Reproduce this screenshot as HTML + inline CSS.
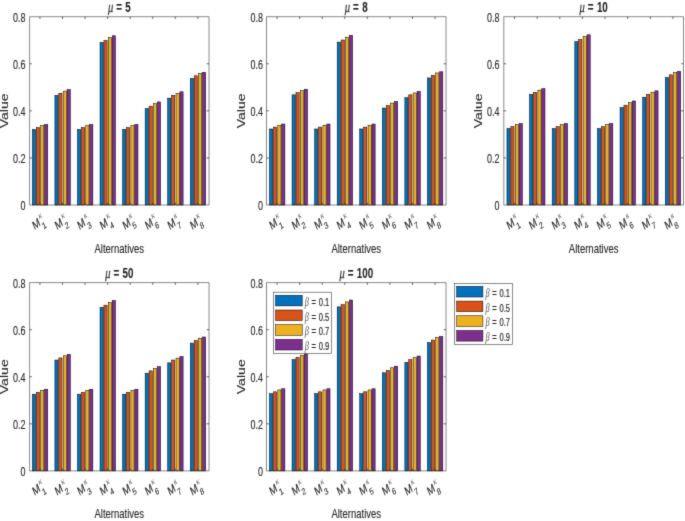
<!DOCTYPE html><html><head><meta charset="utf-8"><style>html,body{margin:0;padding:0;background:#fff;}svg{display:block}</style></head><body>
<svg width="685" height="521" viewBox="0 0 685 521" font-family='"Liberation Sans", sans-serif' fill="#262626">
<rect width="685" height="521" fill="#fff"/>
<style>text{stroke:#262626;stroke-width:0.12px;paint-order:stroke} .lg text{stroke-width:0.18px} .gk{fill:#555;stroke:none} .mu{fill:#333;stroke:#333;stroke-width:0.25px}</style>
<defs><filter id="b" x="0" y="0" width="685" height="521" filterUnits="userSpaceOnUse" color-interpolation-filters="sRGB"><feConvolveMatrix order="3" kernelMatrix="0.0225 0.15 0.0225 0.15 1 0.15 0.0225 0.15 0.0225" edgeMode="duplicate"/></filter></defs><g filter="url(#b)">
<rect x="32.35" y="129.44" width="3.20" height="75.56" fill="#0072BD" stroke="#000" stroke-width="0.5"/>
<rect x="36.25" y="127.56" width="3.20" height="77.44" fill="#D95319" stroke="#000" stroke-width="0.5"/>
<rect x="40.65" y="125.68" width="3.20" height="79.32" fill="#EDB120" stroke="#000" stroke-width="0.5"/>
<rect x="44.55" y="124.50" width="3.20" height="80.50" fill="#7E2F8E" stroke="#000" stroke-width="0.5"/>
<rect x="54.91" y="95.32" width="3.20" height="109.68" fill="#0072BD" stroke="#000" stroke-width="0.5"/>
<rect x="58.81" y="93.20" width="3.20" height="111.80" fill="#D95319" stroke="#000" stroke-width="0.5"/>
<rect x="63.21" y="91.08" width="3.20" height="113.92" fill="#EDB120" stroke="#000" stroke-width="0.5"/>
<rect x="67.11" y="89.67" width="3.20" height="115.33" fill="#7E2F8E" stroke="#000" stroke-width="0.5"/>
<rect x="77.47" y="129.44" width="3.20" height="75.56" fill="#0072BD" stroke="#000" stroke-width="0.5"/>
<rect x="81.37" y="127.56" width="3.20" height="77.44" fill="#D95319" stroke="#000" stroke-width="0.5"/>
<rect x="85.77" y="125.68" width="3.20" height="79.32" fill="#EDB120" stroke="#000" stroke-width="0.5"/>
<rect x="89.67" y="124.50" width="3.20" height="80.50" fill="#7E2F8E" stroke="#000" stroke-width="0.5"/>
<rect x="100.03" y="42.59" width="3.20" height="162.41" fill="#0072BD" stroke="#000" stroke-width="0.5"/>
<rect x="103.93" y="40.47" width="3.20" height="164.53" fill="#D95319" stroke="#000" stroke-width="0.5"/>
<rect x="108.33" y="37.65" width="3.20" height="167.35" fill="#EDB120" stroke="#000" stroke-width="0.5"/>
<rect x="112.23" y="35.77" width="3.20" height="169.23" fill="#7E2F8E" stroke="#000" stroke-width="0.5"/>
<rect x="122.59" y="129.44" width="3.20" height="75.56" fill="#0072BD" stroke="#000" stroke-width="0.5"/>
<rect x="126.49" y="127.56" width="3.20" height="77.44" fill="#D95319" stroke="#000" stroke-width="0.5"/>
<rect x="130.89" y="125.68" width="3.20" height="79.32" fill="#EDB120" stroke="#000" stroke-width="0.5"/>
<rect x="134.79" y="124.50" width="3.20" height="80.50" fill="#7E2F8E" stroke="#000" stroke-width="0.5"/>
<rect x="145.15" y="108.50" width="3.20" height="96.50" fill="#0072BD" stroke="#000" stroke-width="0.5"/>
<rect x="149.05" y="106.14" width="3.20" height="98.86" fill="#D95319" stroke="#000" stroke-width="0.5"/>
<rect x="153.45" y="103.55" width="3.20" height="101.45" fill="#EDB120" stroke="#000" stroke-width="0.5"/>
<rect x="157.35" y="101.91" width="3.20" height="103.09" fill="#7E2F8E" stroke="#000" stroke-width="0.5"/>
<rect x="167.71" y="98.14" width="3.20" height="106.86" fill="#0072BD" stroke="#000" stroke-width="0.5"/>
<rect x="171.61" y="95.32" width="3.20" height="109.68" fill="#D95319" stroke="#000" stroke-width="0.5"/>
<rect x="176.01" y="93.43" width="3.20" height="111.57" fill="#EDB120" stroke="#000" stroke-width="0.5"/>
<rect x="179.91" y="91.78" width="3.20" height="113.22" fill="#7E2F8E" stroke="#000" stroke-width="0.5"/>
<rect x="190.27" y="78.37" width="3.20" height="126.63" fill="#0072BD" stroke="#000" stroke-width="0.5"/>
<rect x="194.17" y="75.78" width="3.20" height="129.22" fill="#D95319" stroke="#000" stroke-width="0.5"/>
<rect x="198.57" y="73.43" width="3.20" height="131.57" fill="#EDB120" stroke="#000" stroke-width="0.5"/>
<rect x="202.47" y="72.25" width="3.20" height="132.75" fill="#7E2F8E" stroke="#000" stroke-width="0.5"/>
<path d="M39.95,205.00v-2.3M39.95,16.70v2.3M62.51,205.00v-2.3M62.51,16.70v2.3M85.07,205.00v-2.3M85.07,16.70v2.3M107.63,205.00v-2.3M107.63,16.70v2.3M130.19,205.00v-2.3M130.19,16.70v2.3M152.75,205.00v-2.3M152.75,16.70v2.3M175.31,205.00v-2.3M175.31,16.70v2.3M197.87,205.00v-2.3M197.87,16.70v2.3M29.60,157.93h2.3M209.00,157.93h-2.3M29.60,110.85h2.3M209.00,110.85h-2.3M29.60,63.77h2.3M209.00,63.77h-2.3" fill="none" stroke="#262626" stroke-width="0.7"/>
<path d="M29.60,16.70H209.00V205.00H29.60Z" fill="none" stroke="#262626" stroke-width="0.55"/>
<text transform="translate(25.40,210.30) scale(0.72,1)" font-size="12.5" text-anchor="end" font-weight="normal" >0</text>
<text transform="translate(25.40,163.23) scale(0.72,1)" font-size="12.5" text-anchor="end" font-weight="normal" >0.2</text>
<text transform="translate(25.40,116.15) scale(0.72,1)" font-size="12.5" text-anchor="end" font-weight="normal" >0.4</text>
<text transform="translate(25.40,69.07) scale(0.72,1)" font-size="12.5" text-anchor="end" font-weight="normal" >0.6</text>
<text transform="translate(25.40,22.00) scale(0.72,1)" font-size="12.5" text-anchor="end" font-weight="normal" >0.8</text>
<g transform="translate(34.51,230.20) scale(0.72,1) rotate(-30)"><text font-size="12.5">M</text><text x="11.6" y="-5.9" font-size="9.8" font-family='"Liberation Serif", serif' font-style="italic" class="gk">&#954;</text><text x="11.6" y="5.9" font-size="9.4">1</text></g>
<g transform="translate(57.05,230.20) scale(0.72,1) rotate(-30)"><text font-size="12.5">M</text><text x="11.6" y="-5.9" font-size="9.8" font-family='"Liberation Serif", serif' font-style="italic" class="gk">&#954;</text><text x="11.6" y="5.9" font-size="9.4">2</text></g>
<g transform="translate(79.58,230.20) scale(0.72,1) rotate(-30)"><text font-size="12.5">M</text><text x="11.6" y="-5.9" font-size="9.8" font-family='"Liberation Serif", serif' font-style="italic" class="gk">&#954;</text><text x="11.6" y="5.9" font-size="9.4">3</text></g>
<g transform="translate(102.12,230.20) scale(0.72,1) rotate(-30)"><text font-size="12.5">M</text><text x="11.6" y="-5.9" font-size="9.8" font-family='"Liberation Serif", serif' font-style="italic" class="gk">&#954;</text><text x="11.6" y="5.9" font-size="9.4">4</text></g>
<g transform="translate(124.65,230.20) scale(0.72,1) rotate(-30)"><text font-size="12.5">M</text><text x="11.6" y="-5.9" font-size="9.8" font-family='"Liberation Serif", serif' font-style="italic" class="gk">&#954;</text><text x="11.6" y="5.9" font-size="9.4">5</text></g>
<g transform="translate(147.19,230.20) scale(0.72,1) rotate(-30)"><text font-size="12.5">M</text><text x="11.6" y="-5.9" font-size="9.8" font-family='"Liberation Serif", serif' font-style="italic" class="gk">&#954;</text><text x="11.6" y="5.9" font-size="9.4">6</text></g>
<g transform="translate(169.72,230.20) scale(0.72,1) rotate(-30)"><text font-size="12.5">M</text><text x="11.6" y="-5.9" font-size="9.8" font-family='"Liberation Serif", serif' font-style="italic" class="gk">&#954;</text><text x="11.6" y="5.9" font-size="9.4">7</text></g>
<g transform="translate(192.26,230.20) scale(0.72,1) rotate(-30)"><text font-size="12.5">M</text><text x="11.6" y="-5.9" font-size="9.8" font-family='"Liberation Serif", serif' font-style="italic" class="gk">&#954;</text><text x="11.6" y="5.9" font-size="9.4">8</text></g>
<text transform="translate(119.30,252.50) scale(0.72,1)" font-size="13.2" text-anchor="middle" font-weight="normal" >Alternatives</text>
<text transform="translate(8.10,110.85) scale(0.72,1) rotate(-90)" font-size="14.1" text-anchor="middle">Value</text>
<text transform="translate(119.30,11.70) scale(0.71,1)" font-size="13.8" text-anchor="middle" font-weight="bold"><tspan font-family='"Liberation Serif", serif' font-style="italic" font-weight="normal" font-size="14.8" class="mu">&#956;</tspan><tspan dx="4.2">=</tspan><tspan dx="1.0"> 5</tspan></text>
<rect x="269.50" y="128.97" width="3.20" height="76.03" fill="#0072BD" stroke="#000" stroke-width="0.5"/>
<rect x="273.40" y="127.09" width="3.20" height="77.91" fill="#D95319" stroke="#000" stroke-width="0.5"/>
<rect x="277.80" y="125.21" width="3.20" height="79.79" fill="#EDB120" stroke="#000" stroke-width="0.5"/>
<rect x="281.70" y="124.03" width="3.20" height="80.97" fill="#7E2F8E" stroke="#000" stroke-width="0.5"/>
<rect x="292.06" y="94.84" width="3.20" height="110.16" fill="#0072BD" stroke="#000" stroke-width="0.5"/>
<rect x="295.96" y="92.73" width="3.20" height="112.27" fill="#D95319" stroke="#000" stroke-width="0.5"/>
<rect x="300.36" y="90.61" width="3.20" height="114.39" fill="#EDB120" stroke="#000" stroke-width="0.5"/>
<rect x="304.26" y="89.20" width="3.20" height="115.80" fill="#7E2F8E" stroke="#000" stroke-width="0.5"/>
<rect x="314.62" y="128.97" width="3.20" height="76.03" fill="#0072BD" stroke="#000" stroke-width="0.5"/>
<rect x="318.52" y="127.09" width="3.20" height="77.91" fill="#D95319" stroke="#000" stroke-width="0.5"/>
<rect x="322.92" y="125.21" width="3.20" height="79.79" fill="#EDB120" stroke="#000" stroke-width="0.5"/>
<rect x="326.82" y="124.03" width="3.20" height="80.97" fill="#7E2F8E" stroke="#000" stroke-width="0.5"/>
<rect x="337.18" y="42.12" width="3.20" height="162.88" fill="#0072BD" stroke="#000" stroke-width="0.5"/>
<rect x="341.08" y="40.00" width="3.20" height="165.00" fill="#D95319" stroke="#000" stroke-width="0.5"/>
<rect x="345.48" y="37.18" width="3.20" height="167.82" fill="#EDB120" stroke="#000" stroke-width="0.5"/>
<rect x="349.38" y="35.29" width="3.20" height="169.71" fill="#7E2F8E" stroke="#000" stroke-width="0.5"/>
<rect x="359.74" y="128.97" width="3.20" height="76.03" fill="#0072BD" stroke="#000" stroke-width="0.5"/>
<rect x="363.64" y="127.09" width="3.20" height="77.91" fill="#D95319" stroke="#000" stroke-width="0.5"/>
<rect x="368.04" y="125.21" width="3.20" height="79.79" fill="#EDB120" stroke="#000" stroke-width="0.5"/>
<rect x="371.94" y="124.03" width="3.20" height="80.97" fill="#7E2F8E" stroke="#000" stroke-width="0.5"/>
<rect x="382.30" y="108.03" width="3.20" height="96.97" fill="#0072BD" stroke="#000" stroke-width="0.5"/>
<rect x="386.20" y="105.67" width="3.20" height="99.33" fill="#D95319" stroke="#000" stroke-width="0.5"/>
<rect x="390.60" y="103.08" width="3.20" height="101.92" fill="#EDB120" stroke="#000" stroke-width="0.5"/>
<rect x="394.50" y="101.44" width="3.20" height="103.56" fill="#7E2F8E" stroke="#000" stroke-width="0.5"/>
<rect x="404.86" y="97.67" width="3.20" height="107.33" fill="#0072BD" stroke="#000" stroke-width="0.5"/>
<rect x="408.76" y="94.84" width="3.20" height="110.16" fill="#D95319" stroke="#000" stroke-width="0.5"/>
<rect x="413.16" y="92.96" width="3.20" height="112.04" fill="#EDB120" stroke="#000" stroke-width="0.5"/>
<rect x="417.06" y="91.31" width="3.20" height="113.69" fill="#7E2F8E" stroke="#000" stroke-width="0.5"/>
<rect x="427.42" y="77.90" width="3.20" height="127.10" fill="#0072BD" stroke="#000" stroke-width="0.5"/>
<rect x="431.32" y="75.31" width="3.20" height="129.69" fill="#D95319" stroke="#000" stroke-width="0.5"/>
<rect x="435.72" y="72.95" width="3.20" height="132.05" fill="#EDB120" stroke="#000" stroke-width="0.5"/>
<rect x="439.62" y="71.78" width="3.20" height="133.22" fill="#7E2F8E" stroke="#000" stroke-width="0.5"/>
<path d="M277.10,205.00v-2.3M277.10,16.70v2.3M299.66,205.00v-2.3M299.66,16.70v2.3M322.22,205.00v-2.3M322.22,16.70v2.3M344.78,205.00v-2.3M344.78,16.70v2.3M367.34,205.00v-2.3M367.34,16.70v2.3M389.90,205.00v-2.3M389.90,16.70v2.3M412.46,205.00v-2.3M412.46,16.70v2.3M435.02,205.00v-2.3M435.02,16.70v2.3M266.50,157.93h2.3M446.00,157.93h-2.3M266.50,110.85h2.3M446.00,110.85h-2.3M266.50,63.77h2.3M446.00,63.77h-2.3" fill="none" stroke="#262626" stroke-width="0.7"/>
<path d="M266.50,16.70H446.00V205.00H266.50Z" fill="none" stroke="#262626" stroke-width="0.55"/>
<text transform="translate(263.10,210.30) scale(0.72,1)" font-size="12.5" text-anchor="end" font-weight="normal" >0</text>
<text transform="translate(263.10,163.23) scale(0.72,1)" font-size="12.5" text-anchor="end" font-weight="normal" >0.2</text>
<text transform="translate(263.10,116.15) scale(0.72,1)" font-size="12.5" text-anchor="end" font-weight="normal" >0.4</text>
<text transform="translate(263.10,69.07) scale(0.72,1)" font-size="12.5" text-anchor="end" font-weight="normal" >0.6</text>
<text transform="translate(263.10,22.00) scale(0.72,1)" font-size="12.5" text-anchor="end" font-weight="normal" >0.8</text>
<g transform="translate(271.42,230.20) scale(0.72,1) rotate(-30)"><text font-size="12.5">M</text><text x="11.6" y="-5.9" font-size="9.8" font-family='"Liberation Serif", serif' font-style="italic" class="gk">&#954;</text><text x="11.6" y="5.9" font-size="9.4">1</text></g>
<g transform="translate(293.97,230.20) scale(0.72,1) rotate(-30)"><text font-size="12.5">M</text><text x="11.6" y="-5.9" font-size="9.8" font-family='"Liberation Serif", serif' font-style="italic" class="gk">&#954;</text><text x="11.6" y="5.9" font-size="9.4">2</text></g>
<g transform="translate(316.51,230.20) scale(0.72,1) rotate(-30)"><text font-size="12.5">M</text><text x="11.6" y="-5.9" font-size="9.8" font-family='"Liberation Serif", serif' font-style="italic" class="gk">&#954;</text><text x="11.6" y="5.9" font-size="9.4">3</text></g>
<g transform="translate(339.06,230.20) scale(0.72,1) rotate(-30)"><text font-size="12.5">M</text><text x="11.6" y="-5.9" font-size="9.8" font-family='"Liberation Serif", serif' font-style="italic" class="gk">&#954;</text><text x="11.6" y="5.9" font-size="9.4">4</text></g>
<g transform="translate(361.61,230.20) scale(0.72,1) rotate(-30)"><text font-size="12.5">M</text><text x="11.6" y="-5.9" font-size="9.8" font-family='"Liberation Serif", serif' font-style="italic" class="gk">&#954;</text><text x="11.6" y="5.9" font-size="9.4">5</text></g>
<g transform="translate(384.16,230.20) scale(0.72,1) rotate(-30)"><text font-size="12.5">M</text><text x="11.6" y="-5.9" font-size="9.8" font-family='"Liberation Serif", serif' font-style="italic" class="gk">&#954;</text><text x="11.6" y="5.9" font-size="9.4">6</text></g>
<g transform="translate(406.70,230.20) scale(0.72,1) rotate(-30)"><text font-size="12.5">M</text><text x="11.6" y="-5.9" font-size="9.8" font-family='"Liberation Serif", serif' font-style="italic" class="gk">&#954;</text><text x="11.6" y="5.9" font-size="9.4">7</text></g>
<g transform="translate(429.25,230.20) scale(0.72,1) rotate(-30)"><text font-size="12.5">M</text><text x="11.6" y="-5.9" font-size="9.8" font-family='"Liberation Serif", serif' font-style="italic" class="gk">&#954;</text><text x="11.6" y="5.9" font-size="9.4">8</text></g>
<text transform="translate(356.25,252.50) scale(0.72,1)" font-size="13.2" text-anchor="middle" font-weight="normal" >Alternatives</text>
<text transform="translate(245.00,110.85) scale(0.72,1) rotate(-90)" font-size="14.1" text-anchor="middle">Value</text>
<text transform="translate(356.25,11.70) scale(0.71,1)" font-size="13.8" text-anchor="middle" font-weight="bold"><tspan font-family='"Liberation Serif", serif' font-style="italic" font-weight="normal" font-size="14.8" class="mu">&#956;</tspan><tspan dx="4.2">=</tspan><tspan dx="1.0"> 8</tspan></text>
<rect x="506.95" y="128.50" width="3.20" height="76.50" fill="#0072BD" stroke="#000" stroke-width="0.5"/>
<rect x="510.85" y="126.62" width="3.20" height="78.38" fill="#D95319" stroke="#000" stroke-width="0.5"/>
<rect x="515.25" y="124.74" width="3.20" height="80.26" fill="#EDB120" stroke="#000" stroke-width="0.5"/>
<rect x="519.15" y="123.56" width="3.20" height="81.44" fill="#7E2F8E" stroke="#000" stroke-width="0.5"/>
<rect x="529.57" y="94.37" width="3.20" height="110.63" fill="#0072BD" stroke="#000" stroke-width="0.5"/>
<rect x="533.47" y="92.26" width="3.20" height="112.74" fill="#D95319" stroke="#000" stroke-width="0.5"/>
<rect x="537.87" y="90.14" width="3.20" height="114.86" fill="#EDB120" stroke="#000" stroke-width="0.5"/>
<rect x="541.77" y="88.72" width="3.20" height="116.28" fill="#7E2F8E" stroke="#000" stroke-width="0.5"/>
<rect x="552.19" y="128.50" width="3.20" height="76.50" fill="#0072BD" stroke="#000" stroke-width="0.5"/>
<rect x="556.09" y="126.62" width="3.20" height="78.38" fill="#D95319" stroke="#000" stroke-width="0.5"/>
<rect x="560.49" y="124.74" width="3.20" height="80.26" fill="#EDB120" stroke="#000" stroke-width="0.5"/>
<rect x="564.39" y="123.56" width="3.20" height="81.44" fill="#7E2F8E" stroke="#000" stroke-width="0.5"/>
<rect x="574.81" y="41.65" width="3.20" height="163.35" fill="#0072BD" stroke="#000" stroke-width="0.5"/>
<rect x="578.71" y="39.53" width="3.20" height="165.47" fill="#D95319" stroke="#000" stroke-width="0.5"/>
<rect x="583.11" y="36.71" width="3.20" height="168.29" fill="#EDB120" stroke="#000" stroke-width="0.5"/>
<rect x="587.01" y="34.82" width="3.20" height="170.18" fill="#7E2F8E" stroke="#000" stroke-width="0.5"/>
<rect x="597.43" y="128.50" width="3.20" height="76.50" fill="#0072BD" stroke="#000" stroke-width="0.5"/>
<rect x="601.33" y="126.62" width="3.20" height="78.38" fill="#D95319" stroke="#000" stroke-width="0.5"/>
<rect x="605.73" y="124.74" width="3.20" height="80.26" fill="#EDB120" stroke="#000" stroke-width="0.5"/>
<rect x="609.63" y="123.56" width="3.20" height="81.44" fill="#7E2F8E" stroke="#000" stroke-width="0.5"/>
<rect x="620.05" y="107.55" width="3.20" height="97.45" fill="#0072BD" stroke="#000" stroke-width="0.5"/>
<rect x="623.95" y="105.20" width="3.20" height="99.80" fill="#D95319" stroke="#000" stroke-width="0.5"/>
<rect x="628.35" y="102.61" width="3.20" height="102.39" fill="#EDB120" stroke="#000" stroke-width="0.5"/>
<rect x="632.25" y="100.96" width="3.20" height="104.04" fill="#7E2F8E" stroke="#000" stroke-width="0.5"/>
<rect x="642.67" y="97.20" width="3.20" height="107.80" fill="#0072BD" stroke="#000" stroke-width="0.5"/>
<rect x="646.57" y="94.37" width="3.20" height="110.63" fill="#D95319" stroke="#000" stroke-width="0.5"/>
<rect x="650.97" y="92.49" width="3.20" height="112.51" fill="#EDB120" stroke="#000" stroke-width="0.5"/>
<rect x="654.87" y="90.84" width="3.20" height="114.16" fill="#7E2F8E" stroke="#000" stroke-width="0.5"/>
<rect x="665.29" y="77.43" width="3.20" height="127.57" fill="#0072BD" stroke="#000" stroke-width="0.5"/>
<rect x="669.19" y="74.84" width="3.20" height="130.16" fill="#D95319" stroke="#000" stroke-width="0.5"/>
<rect x="673.59" y="72.48" width="3.20" height="132.52" fill="#EDB120" stroke="#000" stroke-width="0.5"/>
<rect x="677.49" y="71.31" width="3.20" height="133.69" fill="#7E2F8E" stroke="#000" stroke-width="0.5"/>
<path d="M514.55,205.00v-2.3M514.55,16.70v2.3M537.17,205.00v-2.3M537.17,16.70v2.3M559.79,205.00v-2.3M559.79,16.70v2.3M582.41,205.00v-2.3M582.41,16.70v2.3M605.03,205.00v-2.3M605.03,16.70v2.3M627.65,205.00v-2.3M627.65,16.70v2.3M650.27,205.00v-2.3M650.27,16.70v2.3M672.89,205.00v-2.3M672.89,16.70v2.3M503.80,157.93h2.3M683.50,157.93h-2.3M503.80,110.85h2.3M683.50,110.85h-2.3M503.80,63.77h2.3M683.50,63.77h-2.3" fill="none" stroke="#262626" stroke-width="0.7"/>
<path d="M503.80,16.70H683.50V205.00H503.80Z" fill="none" stroke="#262626" stroke-width="0.55"/>
<text transform="translate(499.60,210.30) scale(0.72,1)" font-size="12.5" text-anchor="end" font-weight="normal" >0</text>
<text transform="translate(499.60,163.23) scale(0.72,1)" font-size="12.5" text-anchor="end" font-weight="normal" >0.2</text>
<text transform="translate(499.60,116.15) scale(0.72,1)" font-size="12.5" text-anchor="end" font-weight="normal" >0.4</text>
<text transform="translate(499.60,69.07) scale(0.72,1)" font-size="12.5" text-anchor="end" font-weight="normal" >0.6</text>
<text transform="translate(499.60,22.00) scale(0.72,1)" font-size="12.5" text-anchor="end" font-weight="normal" >0.8</text>
<g transform="translate(508.73,230.20) scale(0.72,1) rotate(-30)"><text font-size="12.5">M</text><text x="11.6" y="-5.9" font-size="9.8" font-family='"Liberation Serif", serif' font-style="italic" class="gk">&#954;</text><text x="11.6" y="5.9" font-size="9.4">1</text></g>
<g transform="translate(531.30,230.20) scale(0.72,1) rotate(-30)"><text font-size="12.5">M</text><text x="11.6" y="-5.9" font-size="9.8" font-family='"Liberation Serif", serif' font-style="italic" class="gk">&#954;</text><text x="11.6" y="5.9" font-size="9.4">2</text></g>
<g transform="translate(553.88,230.20) scale(0.72,1) rotate(-30)"><text font-size="12.5">M</text><text x="11.6" y="-5.9" font-size="9.8" font-family='"Liberation Serif", serif' font-style="italic" class="gk">&#954;</text><text x="11.6" y="5.9" font-size="9.4">3</text></g>
<g transform="translate(576.45,230.20) scale(0.72,1) rotate(-30)"><text font-size="12.5">M</text><text x="11.6" y="-5.9" font-size="9.8" font-family='"Liberation Serif", serif' font-style="italic" class="gk">&#954;</text><text x="11.6" y="5.9" font-size="9.4">4</text></g>
<g transform="translate(599.02,230.20) scale(0.72,1) rotate(-30)"><text font-size="12.5">M</text><text x="11.6" y="-5.9" font-size="9.8" font-family='"Liberation Serif", serif' font-style="italic" class="gk">&#954;</text><text x="11.6" y="5.9" font-size="9.4">5</text></g>
<g transform="translate(621.59,230.20) scale(0.72,1) rotate(-30)"><text font-size="12.5">M</text><text x="11.6" y="-5.9" font-size="9.8" font-family='"Liberation Serif", serif' font-style="italic" class="gk">&#954;</text><text x="11.6" y="5.9" font-size="9.4">6</text></g>
<g transform="translate(644.17,230.20) scale(0.72,1) rotate(-30)"><text font-size="12.5">M</text><text x="11.6" y="-5.9" font-size="9.8" font-family='"Liberation Serif", serif' font-style="italic" class="gk">&#954;</text><text x="11.6" y="5.9" font-size="9.4">7</text></g>
<g transform="translate(666.74,230.20) scale(0.72,1) rotate(-30)"><text font-size="12.5">M</text><text x="11.6" y="-5.9" font-size="9.8" font-family='"Liberation Serif", serif' font-style="italic" class="gk">&#954;</text><text x="11.6" y="5.9" font-size="9.4">8</text></g>
<text transform="translate(593.65,252.50) scale(0.72,1)" font-size="13.2" text-anchor="middle" font-weight="normal" >Alternatives</text>
<text transform="translate(482.30,110.85) scale(0.72,1) rotate(-90)" font-size="14.1" text-anchor="middle">Value</text>
<text transform="translate(593.65,11.70) scale(0.71,1)" font-size="13.8" text-anchor="middle" font-weight="bold"><tspan font-family='"Liberation Serif", serif' font-style="italic" font-weight="normal" font-size="14.8" class="mu">&#956;</tspan><tspan dx="4.2">=</tspan><tspan dx="1.0"> 10</tspan></text>
<rect x="32.35" y="394.17" width="3.20" height="76.73" fill="#0072BD" stroke="#000" stroke-width="0.5"/>
<rect x="36.25" y="392.28" width="3.20" height="78.62" fill="#D95319" stroke="#000" stroke-width="0.5"/>
<rect x="40.65" y="390.40" width="3.20" height="80.50" fill="#EDB120" stroke="#000" stroke-width="0.5"/>
<rect x="44.55" y="389.22" width="3.20" height="81.68" fill="#7E2F8E" stroke="#000" stroke-width="0.5"/>
<rect x="54.91" y="360.04" width="3.20" height="110.86" fill="#0072BD" stroke="#000" stroke-width="0.5"/>
<rect x="58.81" y="357.92" width="3.20" height="112.98" fill="#D95319" stroke="#000" stroke-width="0.5"/>
<rect x="63.21" y="355.80" width="3.20" height="115.10" fill="#EDB120" stroke="#000" stroke-width="0.5"/>
<rect x="67.11" y="354.39" width="3.20" height="116.51" fill="#7E2F8E" stroke="#000" stroke-width="0.5"/>
<rect x="77.47" y="394.17" width="3.20" height="76.73" fill="#0072BD" stroke="#000" stroke-width="0.5"/>
<rect x="81.37" y="392.28" width="3.20" height="78.62" fill="#D95319" stroke="#000" stroke-width="0.5"/>
<rect x="85.77" y="390.40" width="3.20" height="80.50" fill="#EDB120" stroke="#000" stroke-width="0.5"/>
<rect x="89.67" y="389.22" width="3.20" height="81.68" fill="#7E2F8E" stroke="#000" stroke-width="0.5"/>
<rect x="100.03" y="307.31" width="3.20" height="163.59" fill="#0072BD" stroke="#000" stroke-width="0.5"/>
<rect x="103.93" y="305.20" width="3.20" height="165.70" fill="#D95319" stroke="#000" stroke-width="0.5"/>
<rect x="108.33" y="302.37" width="3.20" height="168.53" fill="#EDB120" stroke="#000" stroke-width="0.5"/>
<rect x="112.23" y="300.49" width="3.20" height="170.41" fill="#7E2F8E" stroke="#000" stroke-width="0.5"/>
<rect x="122.59" y="394.17" width="3.20" height="76.73" fill="#0072BD" stroke="#000" stroke-width="0.5"/>
<rect x="126.49" y="392.28" width="3.20" height="78.62" fill="#D95319" stroke="#000" stroke-width="0.5"/>
<rect x="130.89" y="390.40" width="3.20" height="80.50" fill="#EDB120" stroke="#000" stroke-width="0.5"/>
<rect x="134.79" y="389.22" width="3.20" height="81.68" fill="#7E2F8E" stroke="#000" stroke-width="0.5"/>
<rect x="145.15" y="373.22" width="3.20" height="97.68" fill="#0072BD" stroke="#000" stroke-width="0.5"/>
<rect x="149.05" y="370.87" width="3.20" height="100.03" fill="#D95319" stroke="#000" stroke-width="0.5"/>
<rect x="153.45" y="368.28" width="3.20" height="102.62" fill="#EDB120" stroke="#000" stroke-width="0.5"/>
<rect x="157.35" y="366.63" width="3.20" height="104.27" fill="#7E2F8E" stroke="#000" stroke-width="0.5"/>
<rect x="167.71" y="362.86" width="3.20" height="108.04" fill="#0072BD" stroke="#000" stroke-width="0.5"/>
<rect x="171.61" y="360.04" width="3.20" height="110.86" fill="#D95319" stroke="#000" stroke-width="0.5"/>
<rect x="176.01" y="358.16" width="3.20" height="112.74" fill="#EDB120" stroke="#000" stroke-width="0.5"/>
<rect x="179.91" y="356.51" width="3.20" height="114.39" fill="#7E2F8E" stroke="#000" stroke-width="0.5"/>
<rect x="190.27" y="343.09" width="3.20" height="127.81" fill="#0072BD" stroke="#000" stroke-width="0.5"/>
<rect x="194.17" y="340.50" width="3.20" height="130.40" fill="#D95319" stroke="#000" stroke-width="0.5"/>
<rect x="198.57" y="338.15" width="3.20" height="132.75" fill="#EDB120" stroke="#000" stroke-width="0.5"/>
<rect x="202.47" y="336.97" width="3.20" height="133.93" fill="#7E2F8E" stroke="#000" stroke-width="0.5"/>
<path d="M39.95,470.90v-2.3M39.95,282.60v2.3M62.51,470.90v-2.3M62.51,282.60v2.3M85.07,470.90v-2.3M85.07,282.60v2.3M107.63,470.90v-2.3M107.63,282.60v2.3M130.19,470.90v-2.3M130.19,282.60v2.3M152.75,470.90v-2.3M152.75,282.60v2.3M175.31,470.90v-2.3M175.31,282.60v2.3M197.87,470.90v-2.3M197.87,282.60v2.3M29.60,423.82h2.3M209.00,423.82h-2.3M29.60,376.75h2.3M209.00,376.75h-2.3M29.60,329.67h2.3M209.00,329.67h-2.3" fill="none" stroke="#262626" stroke-width="0.7"/>
<path d="M29.60,282.60H209.00V470.90H29.60Z" fill="none" stroke="#262626" stroke-width="0.55"/>
<text transform="translate(25.40,476.20) scale(0.72,1)" font-size="12.5" text-anchor="end" font-weight="normal" >0</text>
<text transform="translate(25.40,429.12) scale(0.72,1)" font-size="12.5" text-anchor="end" font-weight="normal" >0.2</text>
<text transform="translate(25.40,382.05) scale(0.72,1)" font-size="12.5" text-anchor="end" font-weight="normal" >0.4</text>
<text transform="translate(25.40,334.97) scale(0.72,1)" font-size="12.5" text-anchor="end" font-weight="normal" >0.6</text>
<text transform="translate(25.40,287.90) scale(0.72,1)" font-size="12.5" text-anchor="end" font-weight="normal" >0.8</text>
<g transform="translate(34.51,496.10) scale(0.72,1) rotate(-30)"><text font-size="12.5">M</text><text x="11.6" y="-5.9" font-size="9.8" font-family='"Liberation Serif", serif' font-style="italic" class="gk">&#954;</text><text x="11.6" y="5.9" font-size="9.4">1</text></g>
<g transform="translate(57.05,496.10) scale(0.72,1) rotate(-30)"><text font-size="12.5">M</text><text x="11.6" y="-5.9" font-size="9.8" font-family='"Liberation Serif", serif' font-style="italic" class="gk">&#954;</text><text x="11.6" y="5.9" font-size="9.4">2</text></g>
<g transform="translate(79.58,496.10) scale(0.72,1) rotate(-30)"><text font-size="12.5">M</text><text x="11.6" y="-5.9" font-size="9.8" font-family='"Liberation Serif", serif' font-style="italic" class="gk">&#954;</text><text x="11.6" y="5.9" font-size="9.4">3</text></g>
<g transform="translate(102.12,496.10) scale(0.72,1) rotate(-30)"><text font-size="12.5">M</text><text x="11.6" y="-5.9" font-size="9.8" font-family='"Liberation Serif", serif' font-style="italic" class="gk">&#954;</text><text x="11.6" y="5.9" font-size="9.4">4</text></g>
<g transform="translate(124.65,496.10) scale(0.72,1) rotate(-30)"><text font-size="12.5">M</text><text x="11.6" y="-5.9" font-size="9.8" font-family='"Liberation Serif", serif' font-style="italic" class="gk">&#954;</text><text x="11.6" y="5.9" font-size="9.4">5</text></g>
<g transform="translate(147.19,496.10) scale(0.72,1) rotate(-30)"><text font-size="12.5">M</text><text x="11.6" y="-5.9" font-size="9.8" font-family='"Liberation Serif", serif' font-style="italic" class="gk">&#954;</text><text x="11.6" y="5.9" font-size="9.4">6</text></g>
<g transform="translate(169.72,496.10) scale(0.72,1) rotate(-30)"><text font-size="12.5">M</text><text x="11.6" y="-5.9" font-size="9.8" font-family='"Liberation Serif", serif' font-style="italic" class="gk">&#954;</text><text x="11.6" y="5.9" font-size="9.4">7</text></g>
<g transform="translate(192.26,496.10) scale(0.72,1) rotate(-30)"><text font-size="12.5">M</text><text x="11.6" y="-5.9" font-size="9.8" font-family='"Liberation Serif", serif' font-style="italic" class="gk">&#954;</text><text x="11.6" y="5.9" font-size="9.4">8</text></g>
<text transform="translate(119.30,518.40) scale(0.72,1)" font-size="13.2" text-anchor="middle" font-weight="normal" >Alternatives</text>
<text transform="translate(8.10,376.75) scale(0.72,1) rotate(-90)" font-size="14.1" text-anchor="middle">Value</text>
<text transform="translate(119.30,277.60) scale(0.71,1)" font-size="13.8" text-anchor="middle" font-weight="bold"><tspan font-family='"Liberation Serif", serif' font-style="italic" font-weight="normal" font-size="14.8" class="mu">&#956;</tspan><tspan dx="4.2">=</tspan><tspan dx="1.0"> 50</tspan></text>
<rect x="269.50" y="393.70" width="3.20" height="77.20" fill="#0072BD" stroke="#000" stroke-width="0.5"/>
<rect x="273.40" y="391.81" width="3.20" height="79.09" fill="#D95319" stroke="#000" stroke-width="0.5"/>
<rect x="277.80" y="389.93" width="3.20" height="80.97" fill="#EDB120" stroke="#000" stroke-width="0.5"/>
<rect x="281.70" y="388.75" width="3.20" height="82.15" fill="#7E2F8E" stroke="#000" stroke-width="0.5"/>
<rect x="292.06" y="359.57" width="3.20" height="111.33" fill="#0072BD" stroke="#000" stroke-width="0.5"/>
<rect x="295.96" y="357.45" width="3.20" height="113.45" fill="#D95319" stroke="#000" stroke-width="0.5"/>
<rect x="300.36" y="355.33" width="3.20" height="115.57" fill="#EDB120" stroke="#000" stroke-width="0.5"/>
<rect x="304.26" y="353.92" width="3.20" height="116.98" fill="#7E2F8E" stroke="#000" stroke-width="0.5"/>
<rect x="314.62" y="393.70" width="3.20" height="77.20" fill="#0072BD" stroke="#000" stroke-width="0.5"/>
<rect x="318.52" y="391.81" width="3.20" height="79.09" fill="#D95319" stroke="#000" stroke-width="0.5"/>
<rect x="322.92" y="389.93" width="3.20" height="80.97" fill="#EDB120" stroke="#000" stroke-width="0.5"/>
<rect x="326.82" y="388.75" width="3.20" height="82.15" fill="#7E2F8E" stroke="#000" stroke-width="0.5"/>
<rect x="337.18" y="306.84" width="3.20" height="164.06" fill="#0072BD" stroke="#000" stroke-width="0.5"/>
<rect x="341.08" y="304.73" width="3.20" height="166.17" fill="#D95319" stroke="#000" stroke-width="0.5"/>
<rect x="345.48" y="301.90" width="3.20" height="169.00" fill="#EDB120" stroke="#000" stroke-width="0.5"/>
<rect x="349.38" y="300.02" width="3.20" height="170.88" fill="#7E2F8E" stroke="#000" stroke-width="0.5"/>
<rect x="359.74" y="393.70" width="3.20" height="77.20" fill="#0072BD" stroke="#000" stroke-width="0.5"/>
<rect x="363.64" y="391.81" width="3.20" height="79.09" fill="#D95319" stroke="#000" stroke-width="0.5"/>
<rect x="368.04" y="389.93" width="3.20" height="80.97" fill="#EDB120" stroke="#000" stroke-width="0.5"/>
<rect x="371.94" y="388.75" width="3.20" height="82.15" fill="#7E2F8E" stroke="#000" stroke-width="0.5"/>
<rect x="382.30" y="372.75" width="3.20" height="98.15" fill="#0072BD" stroke="#000" stroke-width="0.5"/>
<rect x="386.20" y="370.39" width="3.20" height="100.51" fill="#D95319" stroke="#000" stroke-width="0.5"/>
<rect x="390.60" y="367.81" width="3.20" height="103.09" fill="#EDB120" stroke="#000" stroke-width="0.5"/>
<rect x="394.50" y="366.16" width="3.20" height="104.74" fill="#7E2F8E" stroke="#000" stroke-width="0.5"/>
<rect x="404.86" y="362.39" width="3.20" height="108.51" fill="#0072BD" stroke="#000" stroke-width="0.5"/>
<rect x="408.76" y="359.57" width="3.20" height="111.33" fill="#D95319" stroke="#000" stroke-width="0.5"/>
<rect x="413.16" y="357.68" width="3.20" height="113.22" fill="#EDB120" stroke="#000" stroke-width="0.5"/>
<rect x="417.06" y="356.04" width="3.20" height="114.86" fill="#7E2F8E" stroke="#000" stroke-width="0.5"/>
<rect x="427.42" y="342.62" width="3.20" height="128.28" fill="#0072BD" stroke="#000" stroke-width="0.5"/>
<rect x="431.32" y="340.03" width="3.20" height="130.87" fill="#D95319" stroke="#000" stroke-width="0.5"/>
<rect x="435.72" y="337.68" width="3.20" height="133.22" fill="#EDB120" stroke="#000" stroke-width="0.5"/>
<rect x="439.62" y="336.50" width="3.20" height="134.40" fill="#7E2F8E" stroke="#000" stroke-width="0.5"/>
<path d="M277.10,470.90v-2.3M277.10,282.60v2.3M299.66,470.90v-2.3M299.66,282.60v2.3M322.22,470.90v-2.3M322.22,282.60v2.3M344.78,470.90v-2.3M344.78,282.60v2.3M367.34,470.90v-2.3M367.34,282.60v2.3M389.90,470.90v-2.3M389.90,282.60v2.3M412.46,470.90v-2.3M412.46,282.60v2.3M435.02,470.90v-2.3M435.02,282.60v2.3M266.50,423.82h2.3M446.00,423.82h-2.3M266.50,376.75h2.3M446.00,376.75h-2.3M266.50,329.67h2.3M446.00,329.67h-2.3" fill="none" stroke="#262626" stroke-width="0.7"/>
<path d="M266.50,282.60H446.00V470.90H266.50Z" fill="none" stroke="#262626" stroke-width="0.55"/>
<text transform="translate(263.10,476.20) scale(0.72,1)" font-size="12.5" text-anchor="end" font-weight="normal" >0</text>
<text transform="translate(263.10,429.12) scale(0.72,1)" font-size="12.5" text-anchor="end" font-weight="normal" >0.2</text>
<text transform="translate(263.10,382.05) scale(0.72,1)" font-size="12.5" text-anchor="end" font-weight="normal" >0.4</text>
<text transform="translate(263.10,334.97) scale(0.72,1)" font-size="12.5" text-anchor="end" font-weight="normal" >0.6</text>
<text transform="translate(263.10,287.90) scale(0.72,1)" font-size="12.5" text-anchor="end" font-weight="normal" >0.8</text>
<g transform="translate(271.42,496.10) scale(0.72,1) rotate(-30)"><text font-size="12.5">M</text><text x="11.6" y="-5.9" font-size="9.8" font-family='"Liberation Serif", serif' font-style="italic" class="gk">&#954;</text><text x="11.6" y="5.9" font-size="9.4">1</text></g>
<g transform="translate(293.97,496.10) scale(0.72,1) rotate(-30)"><text font-size="12.5">M</text><text x="11.6" y="-5.9" font-size="9.8" font-family='"Liberation Serif", serif' font-style="italic" class="gk">&#954;</text><text x="11.6" y="5.9" font-size="9.4">2</text></g>
<g transform="translate(316.51,496.10) scale(0.72,1) rotate(-30)"><text font-size="12.5">M</text><text x="11.6" y="-5.9" font-size="9.8" font-family='"Liberation Serif", serif' font-style="italic" class="gk">&#954;</text><text x="11.6" y="5.9" font-size="9.4">3</text></g>
<g transform="translate(339.06,496.10) scale(0.72,1) rotate(-30)"><text font-size="12.5">M</text><text x="11.6" y="-5.9" font-size="9.8" font-family='"Liberation Serif", serif' font-style="italic" class="gk">&#954;</text><text x="11.6" y="5.9" font-size="9.4">4</text></g>
<g transform="translate(361.61,496.10) scale(0.72,1) rotate(-30)"><text font-size="12.5">M</text><text x="11.6" y="-5.9" font-size="9.8" font-family='"Liberation Serif", serif' font-style="italic" class="gk">&#954;</text><text x="11.6" y="5.9" font-size="9.4">5</text></g>
<g transform="translate(384.16,496.10) scale(0.72,1) rotate(-30)"><text font-size="12.5">M</text><text x="11.6" y="-5.9" font-size="9.8" font-family='"Liberation Serif", serif' font-style="italic" class="gk">&#954;</text><text x="11.6" y="5.9" font-size="9.4">6</text></g>
<g transform="translate(406.70,496.10) scale(0.72,1) rotate(-30)"><text font-size="12.5">M</text><text x="11.6" y="-5.9" font-size="9.8" font-family='"Liberation Serif", serif' font-style="italic" class="gk">&#954;</text><text x="11.6" y="5.9" font-size="9.4">7</text></g>
<g transform="translate(429.25,496.10) scale(0.72,1) rotate(-30)"><text font-size="12.5">M</text><text x="11.6" y="-5.9" font-size="9.8" font-family='"Liberation Serif", serif' font-style="italic" class="gk">&#954;</text><text x="11.6" y="5.9" font-size="9.4">8</text></g>
<text transform="translate(356.25,518.40) scale(0.72,1)" font-size="13.2" text-anchor="middle" font-weight="normal" >Alternatives</text>
<text transform="translate(245.00,376.75) scale(0.72,1) rotate(-90)" font-size="14.1" text-anchor="middle">Value</text>
<text transform="translate(356.25,277.60) scale(0.71,1)" font-size="13.8" text-anchor="middle" font-weight="bold"><tspan font-family='"Liberation Serif", serif' font-style="italic" font-weight="normal" font-size="14.8" class="mu">&#956;</tspan><tspan dx="4.2">=</tspan><tspan dx="1.0"> 100</tspan></text>
<g class="lg"><rect x="273.4" y="292.2" width="58.1" height="61.2" fill="#fff" stroke="#404040" stroke-width="0.6"/>
<rect x="275.6" y="295.3" width="26.599999999999966" height="10.6" fill="#0072BD" stroke="#000" stroke-width="0.5"/>
<text transform="translate(304.80,305.80) scale(0.72,1)" font-size="10.5"><tspan font-family='"Liberation Serif", serif' font-style="italic" class="gk" font-size="11.5">&#946;</tspan><tspan dx="0.6"> =</tspan><tspan dx="1.1"> 0.1</tspan></text>
<rect x="275.6" y="310.0" width="26.599999999999966" height="10.6" fill="#D95319" stroke="#000" stroke-width="0.5"/>
<text transform="translate(304.80,320.50) scale(0.72,1)" font-size="10.5"><tspan font-family='"Liberation Serif", serif' font-style="italic" class="gk" font-size="11.5">&#946;</tspan><tspan dx="0.6"> =</tspan><tspan dx="1.1"> 0.5</tspan></text>
<rect x="275.6" y="324.7" width="26.599999999999966" height="10.6" fill="#EDB120" stroke="#000" stroke-width="0.5"/>
<text transform="translate(304.80,335.20) scale(0.72,1)" font-size="10.5"><tspan font-family='"Liberation Serif", serif' font-style="italic" class="gk" font-size="11.5">&#946;</tspan><tspan dx="0.6"> =</tspan><tspan dx="1.1"> 0.7</tspan></text>
<rect x="275.6" y="339.4" width="26.599999999999966" height="10.6" fill="#7E2F8E" stroke="#000" stroke-width="0.5"/>
<text transform="translate(304.80,349.90) scale(0.72,1)" font-size="10.5"><tspan font-family='"Liberation Serif", serif' font-style="italic" class="gk" font-size="11.5">&#946;</tspan><tspan dx="0.6"> =</tspan><tspan dx="1.1"> 0.9</tspan></text>
</g>
<g class="lg"><rect x="454.5" y="283.4" width="58.1" height="61.0" fill="#fff" stroke="#404040" stroke-width="0.6"/>
<rect x="456.7" y="286.4" width="26.19999999999999" height="10.6" fill="#0072BD" stroke="#000" stroke-width="0.5"/>
<text transform="translate(485.50,296.90) scale(0.72,1)" font-size="10.5"><tspan font-family='"Liberation Serif", serif' font-style="italic" class="gk" font-size="11.5">&#946;</tspan><tspan dx="0.6"> =</tspan><tspan dx="1.1"> 0.1</tspan></text>
<rect x="456.7" y="301.1" width="26.19999999999999" height="10.6" fill="#D95319" stroke="#000" stroke-width="0.5"/>
<text transform="translate(485.50,311.60) scale(0.72,1)" font-size="10.5"><tspan font-family='"Liberation Serif", serif' font-style="italic" class="gk" font-size="11.5">&#946;</tspan><tspan dx="0.6"> =</tspan><tspan dx="1.1"> 0.5</tspan></text>
<rect x="456.7" y="315.8" width="26.19999999999999" height="10.6" fill="#EDB120" stroke="#000" stroke-width="0.5"/>
<text transform="translate(485.50,326.30) scale(0.72,1)" font-size="10.5"><tspan font-family='"Liberation Serif", serif' font-style="italic" class="gk" font-size="11.5">&#946;</tspan><tspan dx="0.6"> =</tspan><tspan dx="1.1"> 0.7</tspan></text>
<rect x="456.7" y="330.5" width="26.19999999999999" height="10.6" fill="#7E2F8E" stroke="#000" stroke-width="0.5"/>
<text transform="translate(485.50,341.00) scale(0.72,1)" font-size="10.5"><tspan font-family='"Liberation Serif", serif' font-style="italic" class="gk" font-size="11.5">&#946;</tspan><tspan dx="0.6"> =</tspan><tspan dx="1.1"> 0.9</tspan></text>
</g>
</g></svg></body></html>
